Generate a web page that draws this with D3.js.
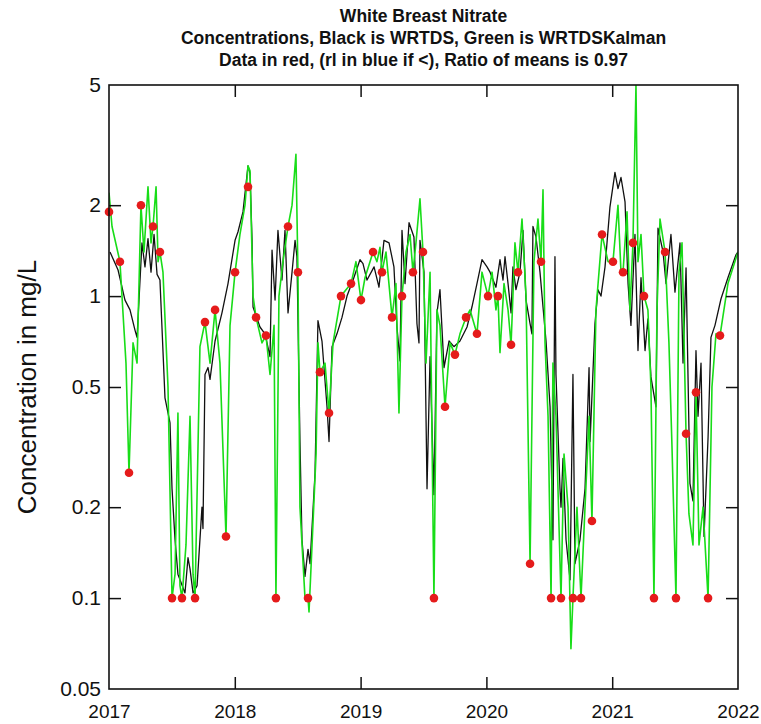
<!DOCTYPE html>
<html><head><meta charset="utf-8">
<script src="https://cdn.jsdelivr.net/npm/d3@7"></script>
<style>body{margin:0;background:#fff}svg{display:block}text{font-family:"Liberation Sans",Arial,sans-serif}</style>
</head><body>
<script>
const titleLines = ["White Breast Nitrate","Concentrations, Black is WRTDS, Green is WRTDSKalman","Data in red, (rl in blue if <), Ratio of means is 0.97"];
const yLabel = "Concentration in mg/L";
const yTicks = [0.05,0.1,0.2,0.5,1,2,5];
const yTickLabels = ["0.05","0.1","0.2","0.5","1","2","5"];
const xTicks = [2017,2018,2019,2020,2021,2022];

// WRTDS (black)
const blackYears = [2017.008,2017.072,2017.127,2017.167,2017.207,2017.223,2017.262,2017.286,2017.310,2017.334,2017.358,2017.382,2017.405,2017.445,2017.485,2017.501,2017.525,2017.548,2017.604,2017.628,2017.644,2017.668,2017.700,2017.739,2017.747,2017.763,2017.787,2017.803,2017.843,2017.898,2017.946,
2018.002,2018.025,2018.065,2018.105,2018.121,2018.137,2018.145,2018.200,2018.240,2018.280,2018.296,2018.320,2018.343,2018.375,2018.399,2018.423,2018.455,2018.479,2018.494,2018.518,2018.534,2018.558,2018.582,2018.598,2018.638,2018.661,2018.693,2018.733,2018.749,2018.773,2018.812,2018.852,2018.892,2018.940,2018.995,
2019.019,2019.051,2019.107,2019.146,2019.186,2019.226,2019.265,2019.289,2019.313,2019.329,2019.353,2019.385,2019.424,2019.448,2019.464,2019.472,2019.504,2019.528,2019.552,2019.583,2019.607,2019.631,2019.663,2019.703,2019.742,2019.790,2019.846,2019.885,2019.925,2019.965,
2020.005,2020.029,2020.076,2020.108,2020.132,2020.148,2020.172,2020.196,2020.211,2020.235,2020.267,2020.291,2020.315,2020.347,2020.362,2020.370,2020.394,2020.426,2020.450,2020.474,2020.506,2020.529,2020.545,2020.553,2020.585,2020.593,2020.609,2020.633,2020.665,2020.688,2020.704,2020.744,2020.784,2020.816,2020.824,2020.863,2020.887,2020.911,2020.943,2020.982,
2021.022,2021.046,2021.070,2021.102,2021.126,2021.149,2021.181,2021.205,2021.229,2021.261,2021.284,2021.308,2021.348,2021.364,2021.404,2021.428,2021.467,2021.499,2021.539,2021.563,2021.587,2021.618,2021.642,2021.666,2021.682,2021.706,2021.730,2021.762,2021.785,2021.817,2021.865,2021.920,2021.984,2022.000];
const blackVals = [1.40,1.22,0.97,0.90,0.77,0.73,1.50,1.25,1.55,1.20,1.60,1.18,1.13,0.46,0.38,0.23,0.156,0.12,0.104,0.136,0.125,0.104,0.11,0.20,0.17,0.55,0.58,0.53,0.71,0.88,1.10,
1.53,1.63,1.90,2.70,2.55,1.53,0.92,0.79,0.75,0.63,1.42,0.97,1.65,1.13,1.65,0.88,1.20,1.53,1.35,0.33,0.156,0.118,0.145,0.13,0.26,0.83,0.71,0.43,0.33,0.68,0.75,0.85,1.00,1.13,1.32,
1.28,1.13,1.25,1.07,1.53,1.50,1.25,0.79,0.61,1.65,1.10,1.75,1.57,0.81,0.70,1.53,1.20,0.23,0.63,0.22,0.88,1.05,0.58,0.71,0.68,0.71,0.79,0.92,1.10,1.32,
1.25,1.20,1.07,1.32,1.13,1.35,1.10,0.88,1.25,1.05,1.20,1.65,0.97,0.81,0.75,1.70,1.57,1.20,0.92,0.71,0.43,0.156,1.35,0.55,0.23,0.20,0.29,0.156,0.115,0.55,0.13,0.156,0.23,0.58,0.33,0.81,1.05,1.00,1.25,1.97,
2.57,2.27,2.47,2.05,1.10,0.80,1.60,0.66,1.15,0.66,0.84,0.54,0.43,1.68,1.40,1.10,1.60,1.03,1.50,0.60,1.24,0.24,0.21,0.66,0.40,0.60,0.16,0.34,0.73,0.80,0.98,1.15,1.37,1.40];

// WRTDSKalman (green)
const greenYears = [2017.000,2017.024,2017.087,2017.135,2017.159,2017.191,2017.223,2017.254,2017.278,2017.310,2017.334,2017.350,2017.374,2017.390,2017.405,2017.429,2017.469,2017.501,2017.525,2017.548,2017.564,2017.580,2017.612,2017.644,2017.668,2017.684,2017.723,2017.763,2017.803,2017.843,2017.882,2017.930,2017.962,
2018.002,2018.041,2018.081,2018.105,2018.121,2018.145,2018.169,2018.216,2018.248,2018.280,2018.312,2018.327,2018.351,2018.383,2018.423,2018.455,2018.486,2018.502,2018.518,2018.558,2018.582,2018.590,2018.614,2018.646,2018.661,2018.677,2018.717,2018.749,2018.781,2018.844,2018.884,2018.924,2018.963,
2019.003,2019.035,2019.099,2019.130,2019.154,2019.170,2019.202,2019.250,2019.281,2019.305,2019.329,2019.361,2019.393,2019.416,2019.440,2019.472,2019.496,2019.520,2019.552,2019.583,2019.607,2019.631,2019.671,2019.711,2019.750,2019.790,2019.838,2019.870,2019.925,2019.965,
2020.013,2020.045,2020.076,2020.092,2020.108,2020.140,2020.172,2020.196,2020.227,2020.251,2020.283,2020.315,2020.347,2020.378,2020.410,2020.434,2020.450,2020.466,2020.490,2020.514,2020.529,2020.553,2020.593,2020.617,2020.649,2020.672,2020.688,2020.720,2020.752,2020.784,2020.816,2020.839,2020.871,2020.919,2020.967,
2021.006,2021.046,2021.070,2021.086,2021.118,2021.141,2021.165,2021.189,2021.205,2021.229,2021.253,2021.284,2021.308,2021.332,2021.356,2021.380,2021.420,2021.451,2021.475,2021.507,2021.531,2021.555,2021.587,2021.610,2021.642,2021.666,2021.690,2021.722,2021.762,2021.793,2021.825,2021.857,2021.920,2022.000];
const greenVals = [2.20,1.70,1.30,0.60,0.26,0.70,0.60,2.00,1.40,2.30,1.50,1.70,2.30,1.30,1.40,1.20,0.50,0.10,0.12,0.41,0.11,0.10,0.15,0.40,0.12,0.10,0.68,0.82,0.60,0.90,0.60,0.16,0.80,
1.20,1.60,2.00,2.70,2.60,1.00,0.85,0.70,0.74,0.55,0.80,0.10,1.00,1.30,1.70,2.00,2.95,1.20,0.20,0.10,0.10,0.09,0.15,0.30,0.70,0.56,0.60,0.41,0.70,1.00,1.05,1.10,1.30,
0.97,1.15,1.40,1.30,1.45,1.20,1.40,0.85,1.10,0.41,1.00,1.40,1.60,1.20,1.50,2.10,1.40,0.60,1.20,0.10,0.90,0.80,0.43,0.70,0.64,0.75,0.85,0.90,0.75,1.20,
1.00,1.20,0.90,1.00,0.65,1.10,0.90,0.69,1.50,1.20,1.80,1.00,0.13,1.30,1.80,1.30,2.25,0.70,0.40,0.10,0.60,0.40,0.10,0.30,0.20,0.068,0.10,0.20,0.10,0.20,0.40,0.18,0.90,1.60,1.30,
1.30,2.00,1.20,1.20,1.90,0.90,1.50,5.00,1.30,1.60,1.00,0.90,0.50,0.10,0.90,1.80,1.40,0.70,0.32,0.10,1.20,1.50,0.35,0.19,0.15,0.48,0.15,0.20,0.10,0.50,0.75,0.74,1.10,1.40];

// Observed data (red)
const obsYears = [2017.000,2017.087,2017.159,2017.254,2017.350,2017.405,2017.501,2017.580,2017.684,2017.763,2017.843,2017.930,
2018.002,2018.105,2018.169,2018.248,2018.327,2018.423,2018.502,2018.582,2018.677,2018.749,2018.844,2018.924,
2019.003,2019.099,2019.170,2019.250,2019.329,2019.416,2019.496,2019.583,2019.671,2019.750,2019.838,2019.925,
2020.013,2020.092,2020.196,2020.251,2020.347,2020.434,2020.514,2020.593,2020.688,2020.752,2020.839,2020.919,
2021.006,2021.086,2021.165,2021.253,2021.332,2021.420,2021.507,2021.587,2021.666,2021.762,2021.857];
const obsVals = [1.9,1.3,0.26,2.0,1.7,1.4,0.1,0.1,0.1,0.82,0.9,0.16,
1.2,2.3,0.85,0.74,0.1,1.7,1.2,0.1,0.56,0.41,1.0,1.1,
0.97,1.4,1.2,0.85,1.0,1.2,1.4,0.1,0.43,0.64,0.85,0.75,
1.0,1.0,0.69,1.2,0.13,1.3,0.1,0.1,0.1,0.1,0.18,1.6,
1.3,1.2,1.5,1.0,0.1,1.4,0.1,0.35,0.48,0.1,0.74];

const W = 761, H = 724;
const m = {left:109, right:738, top:85, bottom:689};
const svg = d3.select("body").append("svg").attr("width",W).attr("height",H);
const x = d3.scaleLinear().domain([2017,2022]).range([m.left,m.right]);
const y = d3.scaleLog().domain([0.05,5]).range([m.bottom,m.top]);

svg.append("defs").append("clipPath").attr("id","clip").append("rect")
  .attr("x",m.left).attr("y",m.top).attr("width",m.right-m.left).attr("height",m.bottom-m.top);

const line = d3.line().x(d=>x(d[0])).y(d=>y(d[1]));
const black = blackYears.map((t,i)=>[t,blackVals[i]]);
const green = greenYears.map((t,i)=>[t,greenVals[i]]);
const obs = obsYears.map((t,i)=>[t,obsVals[i]]);

const g = svg.append("g").attr("clip-path","url(#clip)");
g.append("path").datum(black).attr("d",line).attr("fill","none").attr("stroke","#111").attr("stroke-width",1.3).attr("stroke-linejoin","round");
g.append("path").datum(green).attr("d",line).attr("fill","none").attr("stroke","#18dd18").attr("stroke-width",1.6).attr("stroke-linejoin","round");
svg.append("g").selectAll("circle").data(obs).join("circle")
  .attr("cx",d=>x(d[0])).attr("cy",d=>y(d[1])).attr("r",4.3).attr("fill","#e51b1b");

// axes (ticks inward on all sides)
const tl = 12;
const font = "'Liberation Sans',Arial,sans-serif";
const axL = svg.append("g").attr("transform",`translate(${m.left},0)`)
  .call(d3.axisLeft(y).tickValues(yTicks).tickFormat((d,i)=>yTickLabels[i]).tickSizeInner(-tl).tickSizeOuter(0).tickPadding(8));
const axR = svg.append("g").attr("transform",`translate(${m.right},0)`)
  .call(d3.axisRight(y).tickValues(yTicks).tickFormat("").tickSizeInner(-tl).tickSizeOuter(0));
const axB = svg.append("g").attr("transform",`translate(0,${m.bottom})`)
  .call(d3.axisBottom(x).tickValues(xTicks).tickFormat(d3.format("d")).tickSizeInner(-tl).tickSizeOuter(0).tickPadding(16));
const axT = svg.append("g").attr("transform",`translate(0,${m.top})`)
  .call(d3.axisTop(x).tickValues(xTicks).tickFormat("").tickSizeInner(-tl).tickSizeOuter(0));
[axL,axR,axB,axT].forEach(a=>{a.select(".domain").remove();a.selectAll("line").attr("stroke","#111").attr("stroke-width",1.5);});
axL.selectAll("text").attr("font-size",21).attr("fill","#111").attr("font-family",font);
axB.selectAll("text").attr("font-size",19).attr("fill","#111").attr("font-family",font);
[axL,axR].forEach(a=>a.selectAll(".tick").filter(d=>d===0.05||d===5).select("line").remove());
[axB,axT].forEach(a=>a.selectAll(".tick").filter(d=>d===2017||d===2022).select("line").remove());

svg.append("rect").attr("x",m.left).attr("y",m.top).attr("width",m.right-m.left).attr("height",m.bottom-m.top)
  .attr("fill","none").attr("stroke","#111").attr("stroke-width",1.6);

const cx = (m.left+m.right)/2;
const ty = [17,39,61];
titleLines.forEach((t,i)=>{
  svg.append("text").attr("x",cx).attr("y",ty[i]).attr("text-anchor","middle").attr("dominant-baseline","middle")
    .attr("font-size",17.5).attr("font-weight","bold").attr("fill","#111").text(t);
});
svg.append("text").attr("transform",`translate(29,${(m.top+m.bottom)/2}) rotate(-90)`)
  .attr("text-anchor","middle").attr("dominant-baseline","middle").attr("font-size",26).attr("fill","#111").text(yLabel);
</script>
</body></html>
